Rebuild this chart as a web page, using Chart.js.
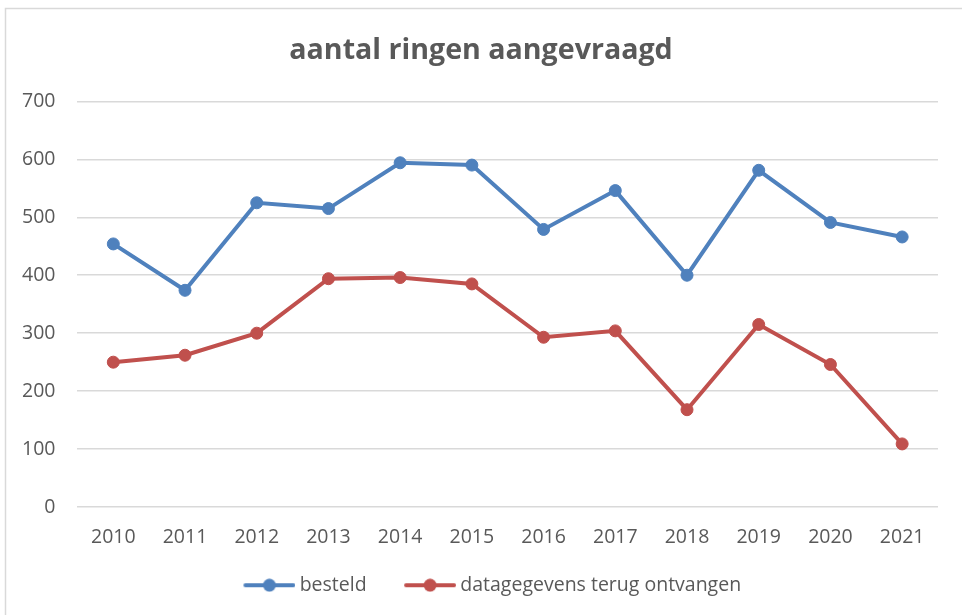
<!DOCTYPE html>
<html>
<head>
<meta charset="utf-8">
<script src="https://cdn.jsdelivr.net/npm/chart.js@4/dist/chart.umd.min.js"></script>
<style>
  html, body { margin: 0; padding: 0; background: #fff; }
  #wrap { position: relative; width: 962px; height: 615px; }
</style>
</head>
<body>
<div id="wrap"><canvas id="c" width="962" height="615"></canvas></div>
<script>
const titleText = 'aantal ringen aangevraagd';
const years = ['2010','2011','2012','2013','2014','2015','2016','2017','2018','2019','2020','2021'];
const besteld = [454, 374, 525, 515, 594, 590, 479, 546, 400, 581, 491, 466];
const ontvangen = [250, 262, 300, 394, 396, 385, 293, 304, 168, 315, 246, 109];
const seriesNames = ['besteld', 'datagegevens terug ontvangen'];
const yTicks = { min: 0, max: 700, step: 100 };

const BLUE = '#4F81BD';
const RED = '#C0504D';
const TEXT = '#595959';
const GRID = '#d9d9d9';
const FONT = "'Open Sans', sans-serif";

const LEG_W = 69;
function legendMarker(color) {
  const cv = document.createElement('canvas');
  cv.width = LEG_W + 11; cv.height = 14;
  const g = cv.getContext('2d');
  const x0 = cv.width - 52;
  g.strokeStyle = color; g.lineWidth = 4; g.lineCap = 'round';
  g.beginPath(); g.moveTo(x0 + 2, 7); g.lineTo(x0 + 50, 7); g.stroke();
  g.fillStyle = color;
  g.beginPath(); g.arc(x0 + 26, 7, 6.5, 0, Math.PI * 2); g.fill();
  return cv;
}
const markers = [legendMarker(BLUE), legendMarker(RED)];

const borderPlugin = {
  id: 'outerBorder',
  beforeDraw(chart) {
    const ctx = chart.ctx;
    ctx.save();
    ctx.strokeStyle = GRID;
    ctx.lineWidth = 1.5;
    ctx.beginPath();
    ctx.moveTo(5.5, 615);
    ctx.lineTo(5.5, 8.5);
    ctx.lineTo(962, 8.5);
    ctx.stroke();
    ctx.restore();
  }
};

new Chart(document.getElementById('c'), {
  type: 'line',
  data: {
    labels: years,
    datasets: [
      { label: seriesNames[0], data: besteld, borderColor: BLUE, backgroundColor: BLUE,
        borderWidth: 4, pointRadius: 6, pointBorderWidth: 1, pointBackgroundColor: BLUE, pointBorderColor: BLUE, tension: 0 },
      { label: seriesNames[1], data: ontvangen, borderColor: RED, backgroundColor: RED,
        borderWidth: 4, pointRadius: 6, pointBorderWidth: 1, pointBackgroundColor: RED, pointBorderColor: RED, tension: 0 }
    ]
  },
  options: {
    responsive: false,
    animation: false,
    devicePixelRatio: 1,
    layout: { padding: { left: 0, right: 0, top: 22, bottom: 10 } },
    plugins: {
      title: {
        display: true, text: titleText, color: TEXT,
        font: { family: FONT, size: 28.6, weight: 'bold' },
        padding: { top: 12, bottom: 33 }
      },
      legend: {
        position: 'bottom',
        labels: {
          usePointStyle: true,
          pointStyleWidth: LEG_W,
          padding: 15,
          color: TEXT,
          font: { family: FONT, size: 19.5 },
          generateLabels(chart) {
            return chart.data.datasets.map((ds, i) => ({
              text: ds.label, fillStyle: ds.borderColor, strokeStyle: ds.borderColor,
              pointStyle: markers[i], datasetIndex: i, hidden: false, lineWidth: 0, fontColor: TEXT
            }));
          }
        }
      },
      tooltip: { enabled: false }
    },
    scales: {
      x: {
        offset: true,
        grid: { display: false },
        border: { display: false },
        ticks: { color: TEXT, font: { family: FONT, size: 19.5 }, padding: 11, maxRotation: 0 }
      },
      y: {
        min: yTicks.min, max: yTicks.max,
        grid: { color: GRID, lineWidth: 1.5, drawTicks: false },
        border: { display: false },
        ticks: { stepSize: yTicks.step, color: TEXT, font: { family: FONT, size: 19.5 }, padding: 22 }
      },
      yRightSpace: {
        position: 'right',
        min: yTicks.min, max: yTicks.max,
        grid: { display: false, drawTicks: false },
        border: { display: false },
        ticks: { display: false },
        afterFit(scale) { scale.width = 24; }
      }
    }
  },
  plugins: [borderPlugin]
});
</script>
</body>
</html>
